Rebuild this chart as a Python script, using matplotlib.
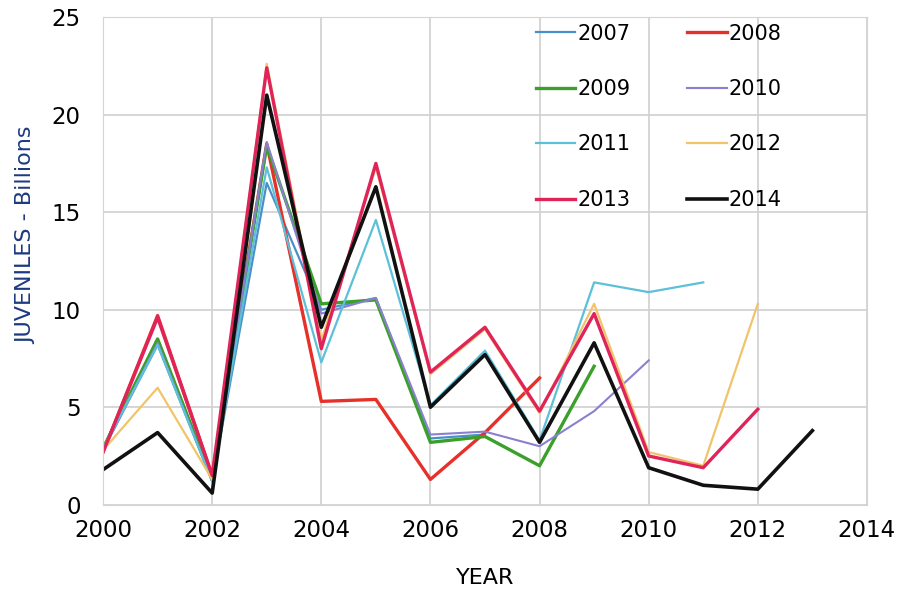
import matplotlib
matplotlib.use('Agg')
import matplotlib.pyplot as plt

# years of the survey
years = list(range(2000, 2014))

# each series = estimate published in that year (values in billions)
s2007 = [2.8, 8.2, 1.2, 16.5, 10.0, 10.6, 3.4, 3.6]
s2008 = [2.7, 9.7, 1.5, 18.5, 5.3, 5.4, 1.3, 3.7, 6.5]
s2009 = [2.9, 8.5, 1.3, 18.4, 10.3, 10.5, 3.2, 3.5, 2.0, 7.1]
s2010 = [2.8, 8.3, 1.2, 18.6, 9.8, 10.6, 3.6, 3.75, 3.0, 4.8, 7.4]
s2011 = [2.9, 8.2, 1.2, 17.3, 7.3, 14.6, 5.1, 7.9, 3.3, 11.4, 10.9, 11.4]
s2012 = [2.8, 6.0, 1.3, 22.6, 8.4, 17.3, 6.7, 9.0, 4.7, 10.3, 2.7, 2.0, 10.3]
s2013 = [2.7, 9.6, 1.5, 22.4, 8.0, 17.5, 6.8, 9.1, 4.8, 9.8, 2.5, 1.9, 4.9]
s2014 = [1.8, 3.7, 0.6, 21.0, 9.1, 16.3, 5.0, 7.7, 3.2, 8.3, 1.9, 1.0, 0.8, 3.8]

labels = ['2007', '2008', '2009', '2010', '2011', '2012', '2013', '2014']
series = [s2007, s2008, s2009, s2010, s2011, s2012, s2013, s2014]
colors = ['#4a90c8', '#e8302a', '#3aa02a', '#8a80d0',
          '#5cc0d8', '#f2c46a', '#e0245a', '#111111']
widths = [1.6, 2.4, 2.4, 1.5, 1.6, 1.6, 2.4, 2.6]

fig = plt.figure(figsize=(9.04, 5.89), dpi=100)
ax = fig.add_axes([0.114, 0.143, 0.845, 0.828])

lines = []
for lab, vals, c, w in zip(labels, series, colors, widths):
    ln, = ax.plot(years[:len(vals)], vals, color=c, lw=w, label=lab)
    lines.append(ln)

ax.set_xlim(2000, 2014)
ax.set_ylim(0, 25)
ax.set_xticks(range(2000, 2015, 2))
ax.set_yticks(range(0, 26, 5))
ax.grid(True, color='#d0d0d0', lw=1.2)
ax.set_axisbelow(True)
for sp in ax.spines.values():
    sp.set_color('#d4d4d4')
ax.tick_params(axis='x', length=0, labelsize=16.5, pad=10)
ax.tick_params(axis='y', length=0, labelsize=16.5, pad=16)

ax.set_xlabel('YEAR', fontsize=16, labelpad=19)
ax.set_ylabel('JUVENILES - Billions', fontsize=16, color='#1c3a80')
ax.yaxis.set_label_coords(-0.088, 0.553)

# legend is filled row by row in the reference: reorder for column-major fill
order = [0, 2, 4, 6, 1, 3, 5, 7]
ax.legend([lines[i] for i in order], [labels[i] for i in order],
          ncol=2, loc='upper left', bbox_to_anchor=(0.553, 1.008), frameon=False,
          borderaxespad=0.1, fontsize=15, handlelength=1.9, handletextpad=0.1,
          labelspacing=1.7, columnspacing=2.7)

fig.savefig('out.png', dpi=100)
